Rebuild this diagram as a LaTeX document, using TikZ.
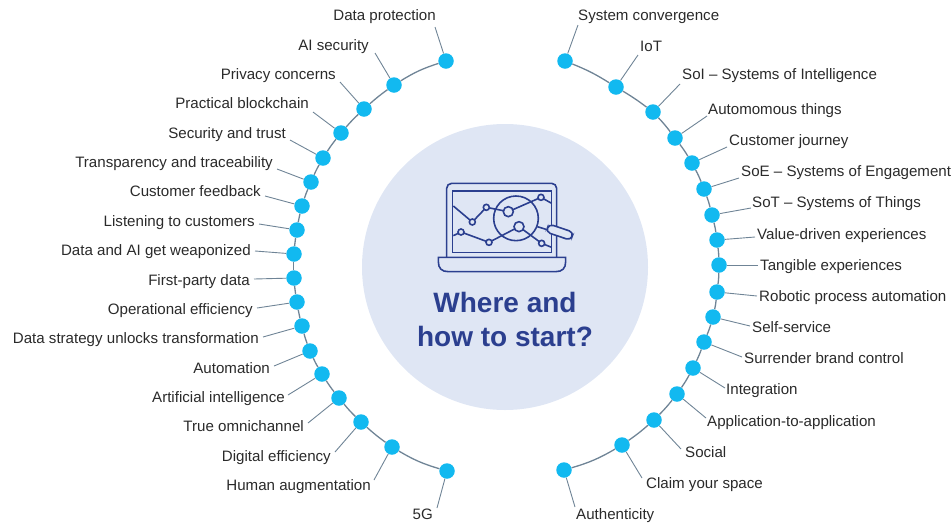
\documentclass[tikz,border=0pt]{standalone}
\usepackage{fontspec}
\setmainfont{Liberation Sans}
\usetikzlibrary{calc,positioning}
\definecolor{dotblue}{HTML}{12B9F0}
\definecolor{arcgrey}{HTML}{6F8496}
\definecolor{hubfill}{HTML}{DFE6F4}
\definecolor{navy}{HTML}{2B3F8F}
\definecolor{labeltext}{HTML}{2A2A2A}

\begin{document}
\begin{tikzpicture}[
    x=1pt, y=-1pt,
    dot/.style={circle, fill=dotblue, inner sep=0pt, minimum size=15.5pt},
    leader/.style={draw=arcgrey, line width=0.9pt},
    arcline/.style={draw=arcgrey, line width=1.3pt},
    item/.style={text=labeltext, inner sep=0pt, yshift=-3pt, font=\fontsize{15.1}{17}\selectfont},
    icon/.style={draw=navy, line width=1.6pt},
    iconmark/.style={icon, fill=hubfill}
]
\useasboundingbox (0,0) rectangle (951,523);

% Hub
\node[circle, fill=hubfill, inner sep=0pt, minimum size=286pt] (hub) at (505,267) {};
\node[text=navy, align=center, font=\fontsize{28}{34}\selectfont\bfseries] (title) at (505,319) {Where and\\how to start?};

% Icon
\begin{scope}[shift={(420,170)}, x=0.3333pt, y=-0.3333pt]
    \draw[icon, rounded corners=5pt] (80,262) -- (80,40) -- (410,40) -- (410,262);
    \draw[icon] (97,63) rectangle (395,247);
    \draw[icon] (55,262) -- (55,275) .. controls (55,295) and (65,305) .. (85,305) -- (407,305) .. controls (427,305) and (437,295) .. (437,275) -- (437,262) -- cycle;
    \draw[icon] (100,108) -- (157,156) -- (199,112) -- (265,125) -- (363,82) -- (395,100);
    \draw[icon] (100,197) -- (123,186) -- (207,217) -- (297,170) -- (365,220) -- (395,232);
    \draw[icon] (288,145) circle[radius=67];
    \draw[icon] (352,170) -- (378,178);
    \draw[icon, fill=hubfill, rounded corners=4.5pt] (387,162) -- (461,187) -- (452,211) -- (378,186) -- cycle;
    \foreach \mx/\my in {157/156, 199/112, 363/82, 123/186, 207/217, 365/220}
        \draw[iconmark] (\mx,\my) circle[radius=9];
    \foreach \mx/\my in {265/125, 297/170}
        \draw[iconmark] (\mx,\my) circle[radius=15];
\end{scope}

% Left side
\foreach \i/\dx/\dy/\cx/\cy/\tx/\ty/\txt in {
    1/446/61/435/27/436/15/Data protection,
    2/394/85/375/53/369/45/AI security,
    3/364/109/340/82/336/74/Privacy concerns,
    4/341/133/313/112/309/103/Practical blockchain,
    5/323/158/290/140/286/133/Security and trust,
    6/311/182/277/169/273/162/Transparency and traceability,
    7/302/206/265/196/261/191/Customer feedback,
    8/297/230/259/224/255/221/Listening to customers,
    9/294/254/255/251/251/250/Data and AI get weaponized,
    10/294/278/254/279/250/280/First-party data,
    11/297/302/257/308/253/309/Operational efficiency,
    12/302/326/263/337/259/338/Data strategy unlocks transformation,
    13/310/351/274/366/270/368/Automation,
    14/322/374/288/395/285/397/Artificial intelligence,
    15/339/398/308/423/304/426/True omnichannel,
    16/361/422/335/452/331/456/Digital efficiency,
    17/392/447/374/480/371/485/Human augmentation,
    18/447/471/437/508/433/514/5G} {
    \node[item, anchor=mid east] (ltext\i) at (\tx,\ty) {\txt};
    \coordinate (lend\i) at (\cx,\cy);
    \node[dot] (ldot\i) at (\dx,\dy) {};
}

% Right side
\foreach \i/\dx/\dy/\cx/\cy/\tx/\ty/\txt in {
    1/565/61/578/25/578/15/System convergence,
    2/616/87/638/55/640/46/IoT,
    3/653/112/680/84/682/74/SoI – Systems of Intelligence,
    4/675/138/707/116/708/109/Automomous things,
    5/692/163/727/147/729/140/Customer journey,
    6/704/189/739/178/741/171/SoE – Systems of Engagement,
    7/712/215/751/208/752/202/SoT – Systems of Things,
    8/717/240/755/237/757/234/Value-driven experiences,
    9/719/265/758/265/760/265/Tangible experiences,
    10/717/292/757/296/759/296/Robotic process automation,
    11/713/317/750/326/752/327/Self-service,
    12/704/342/742/357/744/358/Surrender brand control,
    13/693/368/725/388/726/389/Integration,
    14/677/394/706/418/707/421/Application-to-application,
    15/654/420/681/449/685/452/Social,
    16/622/445/642/478/646/483/Claim your space,
    17/564/470/575/507/576/514/Authenticity} {
    \node[item, anchor=mid west] (rtext\i) at (\tx,\ty) {\txt};
    \coordinate (rend\i) at (\cx,\cy);
    \node[dot] (rdot\i) at (\dx,\dy) {};
}

% Lines
\foreach \i in {1,...,18}
    \draw[leader] (lend\i) -- (ldot\i);
\foreach \i in {1,...,17}
    \draw[leader] (rend\i) -- (rdot\i);
\draw[arcline] (ldot1) to[bend right=7] (ldot2);
\draw[arcline] (ldot17) to[bend right=7] (ldot18);
\foreach \i [evaluate=\i as \j using int(\i+1)] in {2,...,16}
    \draw[arcline] (ldot\i) to[bend right=3] (ldot\j);
\draw[arcline] (rdot1) to[bend left=5] (rdot2);
\draw[arcline] (rdot16) to[bend left=7] (rdot17);
\foreach \i [evaluate=\i as \j using int(\i+1)] in {2,...,15}
    \draw[arcline] (rdot\i) to[bend left=3] (rdot\j);

\end{tikzpicture}
\end{document}
